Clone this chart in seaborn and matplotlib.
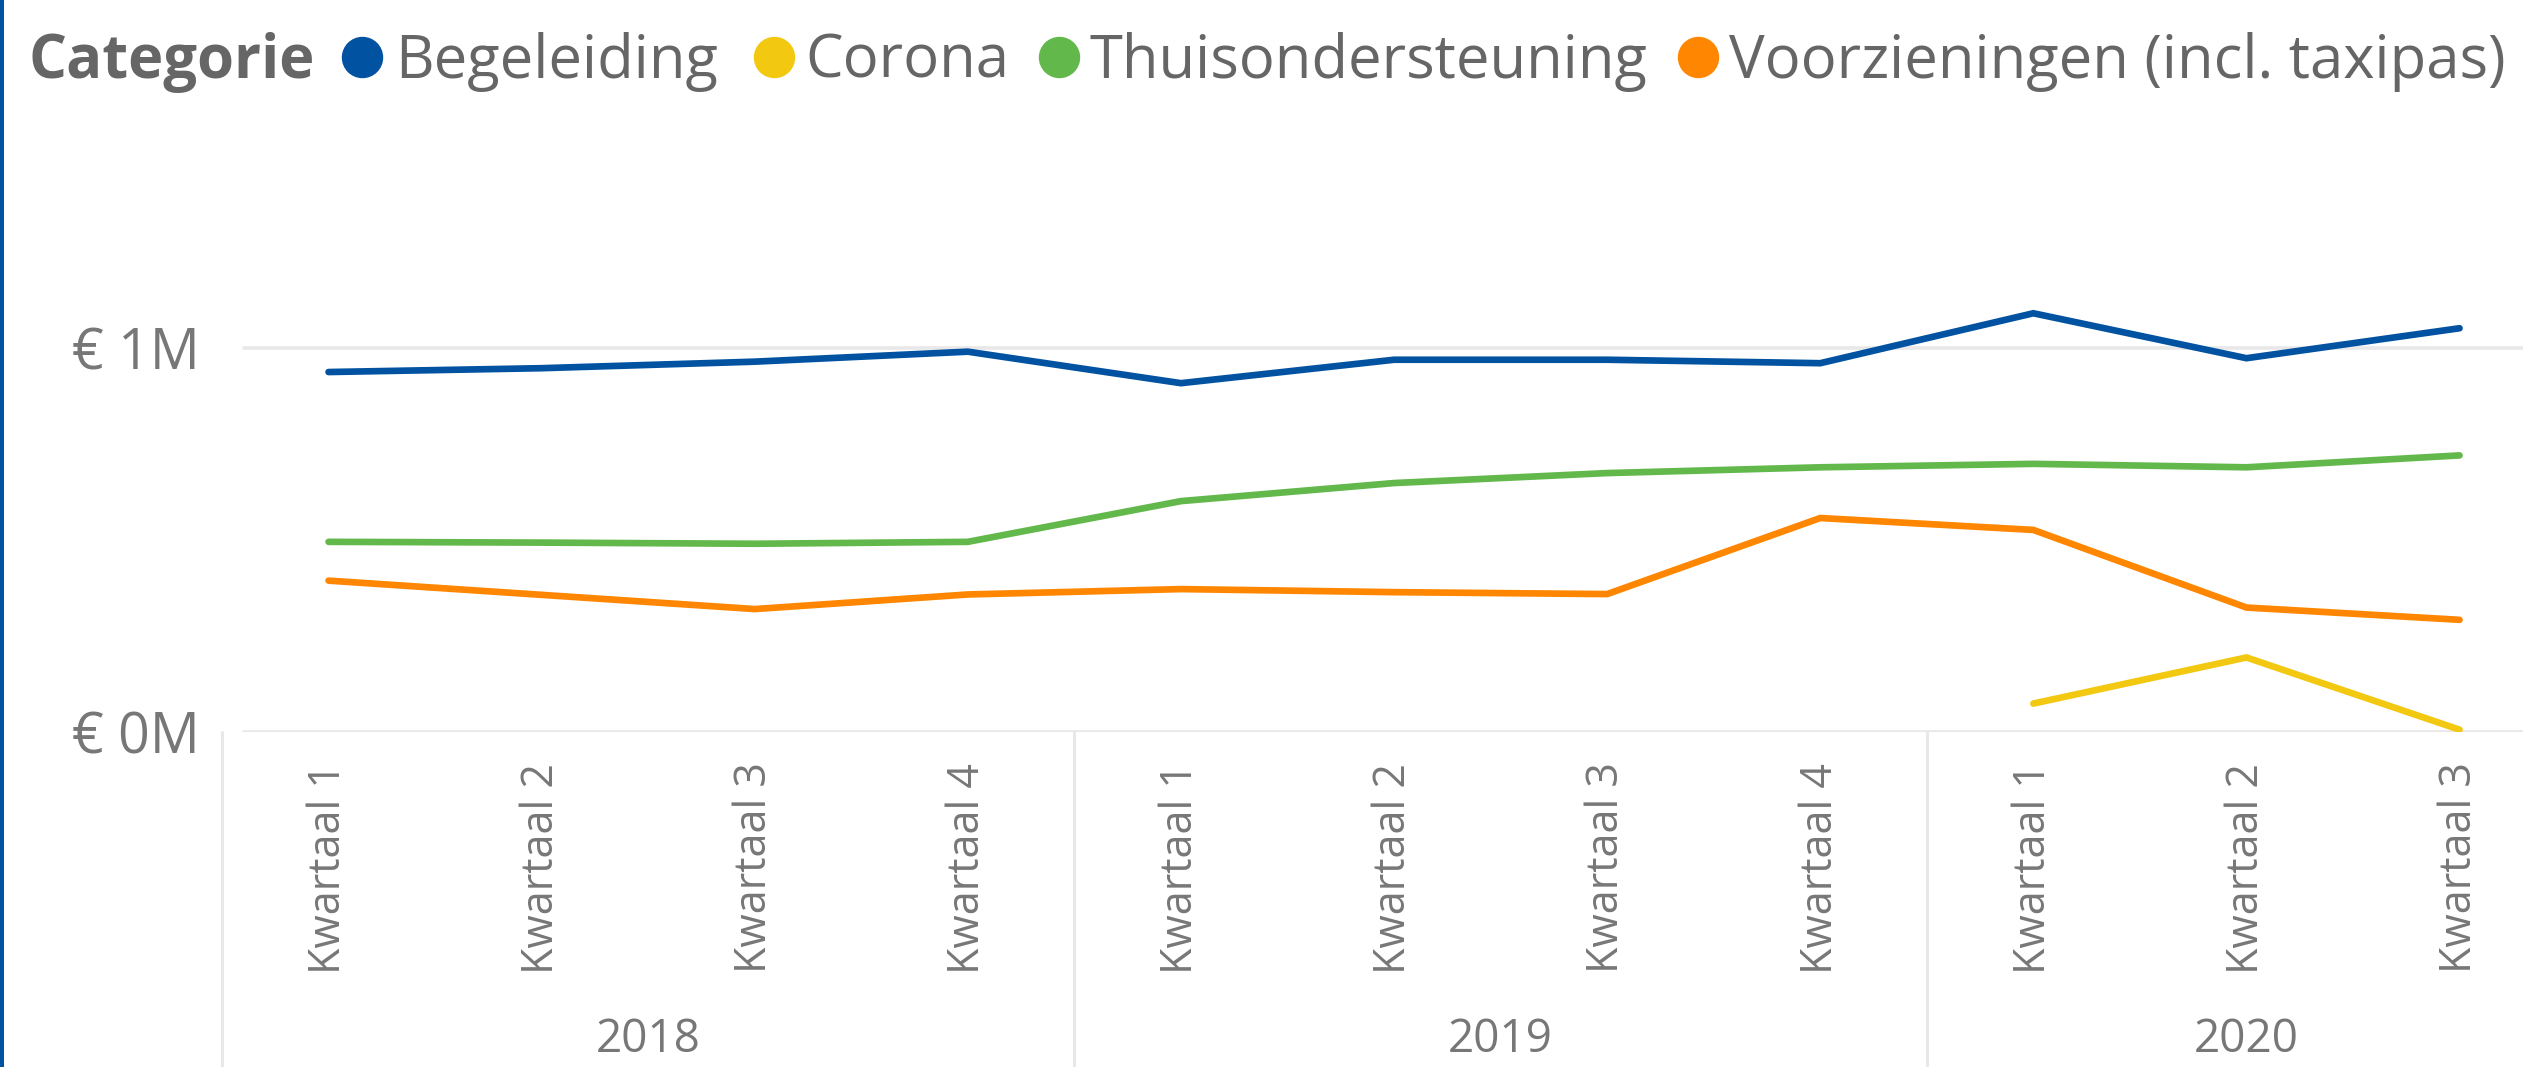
import numpy as np
import pandas as pd
import seaborn as sns
import matplotlib.pyplot as plt
from matplotlib.lines import Line2D
from matplotlib.patches import Rectangle

# --- data (waarden in euro) ---
kwartalen = ["Kwartaal 1", "Kwartaal 2", "Kwartaal 3", "Kwartaal 4",
             "Kwartaal 1", "Kwartaal 2", "Kwartaal 3", "Kwartaal 4",
             "Kwartaal 1", "Kwartaal 2", "Kwartaal 3"]
jaren = ["2018", "2019", "2020"]
jaar_lengte = [4, 4, 3]

begeleiding = [937000, 947000, 964000, 990000, 908000, 969000, 969000, 960000, 1090000, 973000, 1051000]
thuisondersteuning = [495000, 493000, 490000, 495000, 601000, 648000, 674000, 689000, 698000, 689000, 720000]
voorzieningen = [394000, 357000, 320000, 358000, 372000, 364000, 359000, 557000, 526000, 324000, 292000]
corona = [74000, 194000, 6000]  # alleen 2020 kwartaal 1-3

categorieen = ["Begeleiding", "Corona", "Thuisondersteuning", "Voorzieningen (incl. taxipas)"]
kleuren = {"Begeleiding": "#0152A1", "Corona": "#F2C811",
           "Thuisondersteuning": "#63B84C", "Voorzieningen (incl. taxipas)": "#FF8601"}

idx = list(range(len(kwartalen)))
df = pd.concat([
    pd.DataFrame({"pos": idx, "bedrag": begeleiding, "Categorie": "Begeleiding"}),
    pd.DataFrame({"pos": idx[8:], "bedrag": corona, "Categorie": "Corona"}),
    pd.DataFrame({"pos": idx, "bedrag": thuisondersteuning, "Categorie": "Thuisondersteuning"}),
    pd.DataFrame({"pos": idx, "bedrag": voorzieningen, "Categorie": "Voorzieningen (incl. taxipas)"}),
])

sns.set_theme(style="white")
plt.rcParams['font.family'] = ['Open Sans', 'DejaVu Sans']

W, H = 2523, 1067
fig = plt.figure(figsize=(W / 100, H / 100), dpi=100)
fig.patch.set_facecolor("white")

# plot gebied: x band links op 222px, 0M op 732px, 1M op 348px
ax_left, ax_bottom_px, ax_top_px = 222, 732, 271
ax = fig.add_axes([ax_left / W, 1 - ax_bottom_px / H, 1 - ax_left / W, (ax_bottom_px - ax_top_px) / H])
ax.set_facecolor("white")

ax.set_ylim(0, 1.2e6)
ax.set_xlim(-0.5, (W - ax_left) / 213.1 - 0.5)

grid_c = "#e8e8e8"
for yv in [0, 1e6]:
    ax.axhline(yv, xmin=22 / (W - ax_left), xmax=1, color=grid_c, lw=2.6, zorder=1)

sns.lineplot(data=df, x="pos", y="bedrag", hue="Categorie", hue_order=categorieen,
             palette=kleuren, linewidth=4.8, legend=False, ax=ax, zorder=3,
             solid_capstyle="round", solid_joinstyle="miter")

for s in ax.spines.values():
    s.set_visible(False)

ax.set_xlabel("")
ax.set_ylabel("")
ax.set_yticks([0, 1e6])
ax.set_yticklabels(["€ 0M", "€ 1M"])
ax.tick_params(axis="y", length=0, pad=16, labelsize=40, labelcolor="#777777")
ax.set_xticks(idx)
ax.set_xticklabels(kwartalen, rotation=90)
ax.tick_params(axis="x", length=0, pad=22, labelsize=31, labelcolor="#777777")

# jaren en scheidingslijnen
trans = ax.get_xaxis_transform()
h_ax = ax_bottom_px - ax_top_px
start = 0
ax.plot([-0.5, -0.5], [0, -(H - ax_bottom_px) / h_ax], transform=trans, color=grid_c, lw=2.2, clip_on=False)
for jaar, n in zip(jaren, jaar_lengte):
    ax.text(start - 0.5 + n / 2, (ax_bottom_px - 1040) / h_ax, jaar, transform=trans,
            ha="center", va="center", fontsize=33, color="#777777")
    start += n
    if start < len(kwartalen):
        ax.plot([start - 0.5, start - 0.5], [0, -(H - ax_bottom_px) / h_ax], transform=trans,
                color=grid_c, lw=2.2, clip_on=False)

# legenda bovenaan
leg_y = 1 - 78 / H
fig.text(29 / W, leg_y, "Categorie", fontsize=43, fontweight="bold", color="#666666", va="baseline")
marker_x = [362, 774, 1059, 1698]
tekst_x = [395, 805, 1090, 1729]
for cat, mx, tx in zip(categorieen, marker_x, tekst_x):
    fig.add_artist(Line2D([mx / W], [1 - 57 / H], marker="o", markersize=28.8, color=kleuren[cat],
                          linestyle="none", transform=fig.transFigure))
    fig.text(tx / W, leg_y, cat, fontsize=43, color="#666666", va="baseline")

# blauwe rand links
fig.add_artist(Rectangle((0, 0), 4 / W, 1, transform=fig.transFigure, color="#0152A1", lw=0))

fig.savefig("out.png", dpi=100)
